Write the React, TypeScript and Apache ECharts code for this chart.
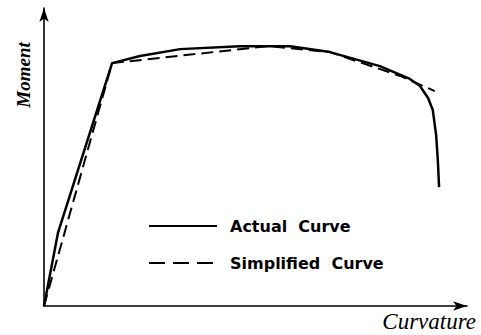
import React, { useEffect, useRef } from "react";
import * as echarts from "echarts";

// Moment–curvature relation (arbitrary units, 0..100 on both axes)
const actualCurvature = [0, 3.3, 16.1, 22.7, 32.2, 46.3, 58.2, 67.6, 79.4, 86.5, 88.9, 90.8, 91.9, 92.7, 93.1, 93.4];
const actualMoment = [0, 24.5, 81.5, 83.9, 86.2, 87.2, 87.2, 85.2, 80.5, 76.2, 73.8, 69.8, 65.8, 57.4, 49.0, 39.9];

const simplifiedCurvature = [0, 16.1, 53.0, 67.6, 84.2, 92.4];
const simplifiedMoment = [0, 81.5, 87.2, 85.2, 77.2, 72.1];

const seriesNames = ["Actual  Curve", "Simplified  Curve"];
const xTitle = "Curvature";
const yTitle = "Moment";

const zip = (xs: number[], ys: number[]) => xs.map((x, i) => [x, ys[i]]);

// legend keys show only the line, no marker
const hiddenMarker = { color: "rgba(0,0,0,0)", borderColor: "rgba(0,0,0,0)", borderWidth: 0 };

export default function App() {
  const ref = useRef<HTMLDivElement>(null);

  useEffect(() => {
    if (!ref.current) return;
    const chart = echarts.init(ref.current, undefined, { renderer: "svg" });

    const axisCommon = {
      type: "value" as const,
      min: 0,
      max: 100,
      axisLine: {
        show: true,
        symbol: ["none", "arrow"],
        symbolSize: [7, 14],
        lineStyle: { color: "#000", width: 1.6 },
      },
      axisTick: { show: false },
      axisLabel: { show: false },
      splitLine: { show: false },
    };

    chart.setOption({
      animation: false,
      backgroundColor: "#fff",
      grid: { left: 44, right: 14, top: 8, bottom: 29 },
      xAxis: { ...axisCommon },
      yAxis: { ...axisCommon },
      legend: {
        orient: "vertical",
        left: 143,
        top: 213,
        itemWidth: 68,
        itemHeight: 14,
        itemGap: 21,
        textStyle: {
          fontFamily: "DejaVu Sans",
          fontWeight: "bold",
          fontSize: 16,
          color: "#000",
          padding: [0, 0, 0, 8],
        },
        data: [
          { name: seriesNames[0], itemStyle: hiddenMarker, lineStyle: { color: "#000", type: "solid", width: 2 } },
          { name: seriesNames[1], itemStyle: hiddenMarker, lineStyle: { color: "#000", type: [16, 8], width: 2 } },
        ],
      },
      series: [
        {
          name: seriesNames[0],
          type: "line",
          data: zip(actualCurvature, actualMoment),
          showSymbol: false,
          symbol: "none",
          smooth: false,
          lineStyle: { color: "#000", width: 2.5 },
          itemStyle: { color: "#000" },
        },
        {
          name: seriesNames[1],
          type: "line",
          data: zip(simplifiedCurvature, simplifiedMoment),
          showSymbol: false,
          symbol: "none",
          lineStyle: { color: "#000", width: 2, type: [12, 6] },
          itemStyle: { color: "#000" },
        },
      ],
      graphic: [
        {
          type: "text",
          x: 14,
          y: 75,
          rotation: Math.PI / 2,
          style: {
            text: yTitle,
            fontFamily: "Liberation Serif",
            fontStyle: "italic",
            fontWeight: "bold",
            fontSize: 19,
            fill: "#000",
            align: "center",
            verticalAlign: "top",
          },
        },
        {
          type: "text",
          x: 476,
          y: 310,
          style: {
            text: xTitle,
            fontFamily: "Liberation Serif",
            fontStyle: "italic",
            fontSize: 23,
            fill: "#000",
            align: "right",
            verticalAlign: "top",
          },
        },
      ],
    });

    return () => chart.dispose();
  }, []);

  return <div ref={ref} style={{ width: 481, height: 335, position: "absolute", left: 0, top: 0 }} />;
}
